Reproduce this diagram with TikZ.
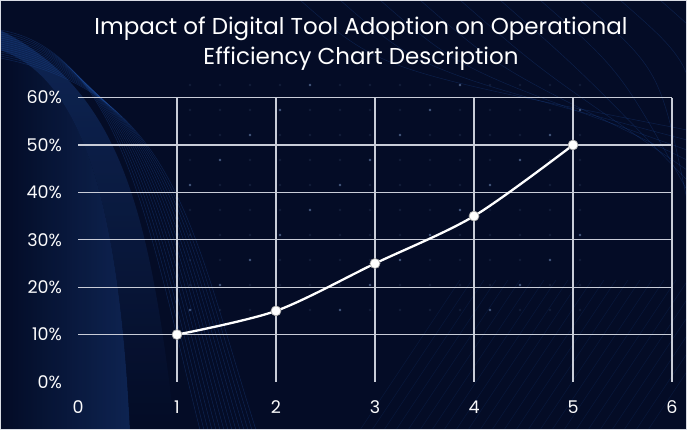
\documentclass[tikz,border=0pt]{standalone}
\usepackage{fontspec}
\setmainfont{Poppins}
\usetikzlibrary{positioning}

\definecolor{navy}{HTML}{040C26}
\definecolor{glow}{HTML}{1F4E9E}
\definecolor{gridline}{HTML}{C9CDD8}

\tikzset{
  gridrule/.style={gridline, line width=1.2pt},
  ticklabel/.style={text=white!90!gridline, font=\fontsize{17.5}{17.5}\selectfont, inner sep=1pt},
  datapoint/.style={circle, fill=white, draw=gray!70, line width=0.7pt, minimum size=10pt, inner sep=0pt},
  trend/.style={white, line width=2.3pt},
  swoosh/.style={glow, line width=0.5pt, opacity=0.35}
}

\begin{document}
\begin{tikzpicture}[x=1pt, y=1pt]
\useasboundingbox (0,0) rectangle (687,430);
\fill[navy] (0,0) rectangle (687,430);
\shade[left color=navy, right color=glow!40!navy, opacity=0.9]
  (0,430) -- (0,380) .. controls (90,350) and (120,200) .. (130,0) -- (0,0) -- cycle;
\shade[top color=glow!55!navy, bottom color=navy, opacity=0.7]
  (0,380) .. controls (90,350) and (120,200) .. (130,0) -- (175,0) .. controls (150,220) and (120,340) .. (0,400) -- cycle;

% decorative sweeps
\foreach \k in {0,...,14}
  \draw[swoosh] (0,{400-2*\k}) .. controls ({120+4*\k},{380-3*\k}) and ({150+3*\k},200) .. ({200+4*\k},0);
\foreach \k in {0,...,24}
  \draw[swoosh, opacity=0.18] ({360+12*\k},0) -- ({460+12*\k},150);
\foreach \k in {0,...,10}
  \draw[swoosh, opacity=0.3] ({300+40*\k},430) .. controls ({380+40*\k},360) .. (687,{300-10*\k});

% faint dots
\foreach \i in {0,...,13}
  \foreach \j in {0,...,9}
    \fill[glow!60!white, opacity={mod(\i*7+\j*3,5)==0 ? 0.55 : 0.12}] ({190+30*\i},{120+25*\j}) circle (1.3pt);

% chart
\begin{scope}[shift={(78,48)}, x=99pt, y=4.74pt]
\foreach \v in {10,20,...,60}
  \draw[gridrule] (0,\v) -- (6,\v);
\foreach \u in {1,...,6}
  \draw[gridrule] (\u,0) -- (\u,60);
\foreach \v in {0,10,...,60}
  \node[ticklabel, anchor=east] (yl\v) at (-0.15,\v) {\v\%};
\foreach \u in {0,...,6}
  \node[ticklabel] (xl\u) at (\u,-5.3) {\u};
\coordinate (p1) at (1,10);
\coordinate (p2) at (2,15);
\coordinate (p3) at (3,25);
\coordinate (p4) at (4,35);
\coordinate (p5) at (5,50);
\draw[trend] plot[smooth, tension=0.5] coordinates {(p1) (p2) (p3) (p4) (p5)};
\foreach \n in {1,...,5}
  \node[datapoint] (m\n) at (p\n) {};
\end{scope}

\node[text=white, font=\fontsize{23}{30}\selectfont, align=center] (title) at (361,386) {Impact of Digital Tool Adoption on Operational\\Efficiency Chart Description};
\draw[gridline!70, line width=0.8pt] (0.4,0.4) rectangle (686.6,429.6);
\end{tikzpicture}
\end{document}
